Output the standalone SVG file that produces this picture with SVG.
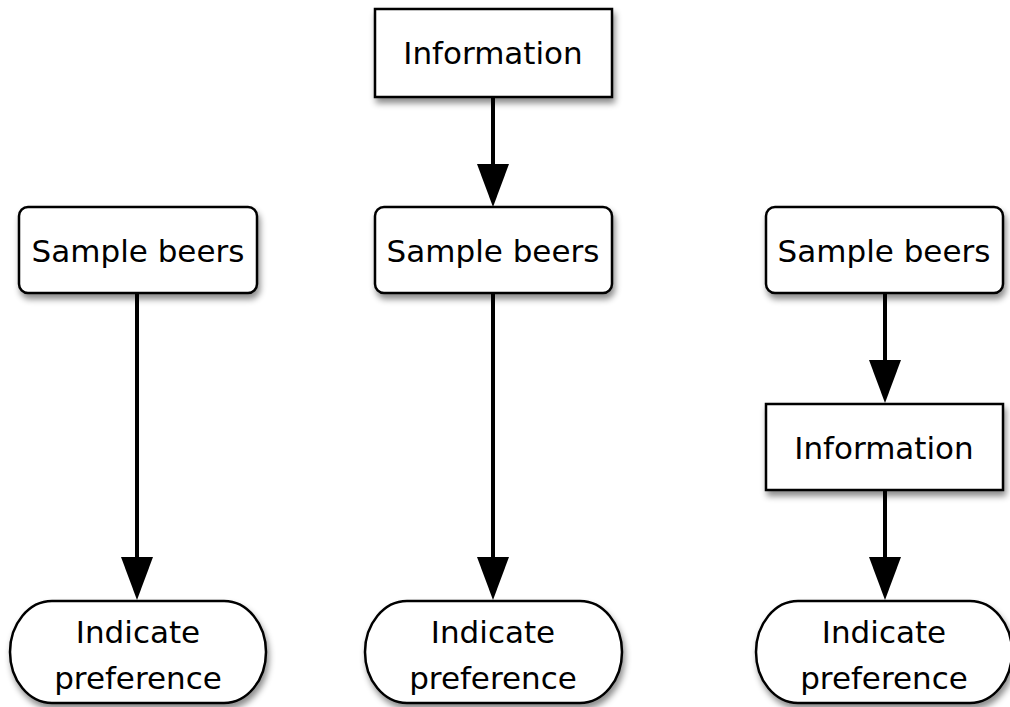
<svg xmlns="http://www.w3.org/2000/svg" width="1010" height="707" viewBox="0 0 1010 707">
<defs>
<filter id="sh" x="-10%" y="-10%" width="130%" height="140%">
<feDropShadow dx="2" dy="5" stdDeviation="3" flood-color="#000" flood-opacity="0.45"/>
</filter>
<marker id="ah" markerUnits="userSpaceOnUse" markerWidth="44" markerHeight="32" refX="22" refY="16" orient="auto" viewBox="0 0 44 32">
<path d="M0,0 L43,16 L0,32 Z" fill="#000"/>
</marker>
</defs>
<style>
.box{fill:#fff;stroke:#000;stroke-width:2.5;filter:url(#sh)}
.t{font-family:"DejaVu Sans","Liberation Sans",sans-serif;font-size:31px;fill:#000;text-anchor:middle}
.c{stroke:#000;stroke-width:4;fill:none;marker-end:url(#ah)}
</style>
<rect width="1010" height="707" fill="#fff"/>
<g id="connectors">
<line class="c" x1="137" y1="294" x2="137" y2="579"/>
<line class="c" x1="493" y1="97" x2="493" y2="186"/>
<line class="c" x1="493" y1="294" x2="493" y2="579"/>
<line class="c" x1="885" y1="294" x2="885" y2="382"/>
<line class="c" x1="885" y1="491" x2="885" y2="579"/>
</g>
<g id="sample1">
<rect class="box" x="19" y="207" width="238" height="86" rx="9"/>
<text class="t" x="138" y="262">Sample beers</text>
</g>
<g id="indicate1">
<rect class="box" x="10" y="601" width="256" height="102" rx="42" ry="51"/>
<text class="t" x="138" y="643">Indicate</text>
<text class="t" x="138" y="689">preference</text>
</g>
<g id="info2">
<rect class="box" x="375" y="9" width="237" height="88"/>
<text class="t" x="493" y="64">Information</text>
</g>
<g id="sample2">
<rect class="box" x="375" y="207" width="237" height="86" rx="9"/>
<text class="t" x="493" y="262">Sample beers</text>
</g>
<g id="indicate2">
<rect class="box" x="365" y="601" width="257" height="102" rx="42" ry="51"/>
<text class="t" x="493" y="643">Indicate</text>
<text class="t" x="493" y="689">preference</text>
</g>
<g id="sample3">
<rect class="box" x="766" y="207" width="237" height="86" rx="9"/>
<text class="t" x="884" y="262">Sample beers</text>
</g>
<g id="info3">
<rect class="box" x="766" y="404" width="237" height="86"/>
<text class="t" x="884" y="459">Information</text>
</g>
<g id="indicate3">
<rect class="box" x="756" y="601" width="256" height="102" rx="42" ry="51"/>
<text class="t" x="884" y="643">Indicate</text>
<text class="t" x="884" y="689">preference</text>
</g>
</svg>
